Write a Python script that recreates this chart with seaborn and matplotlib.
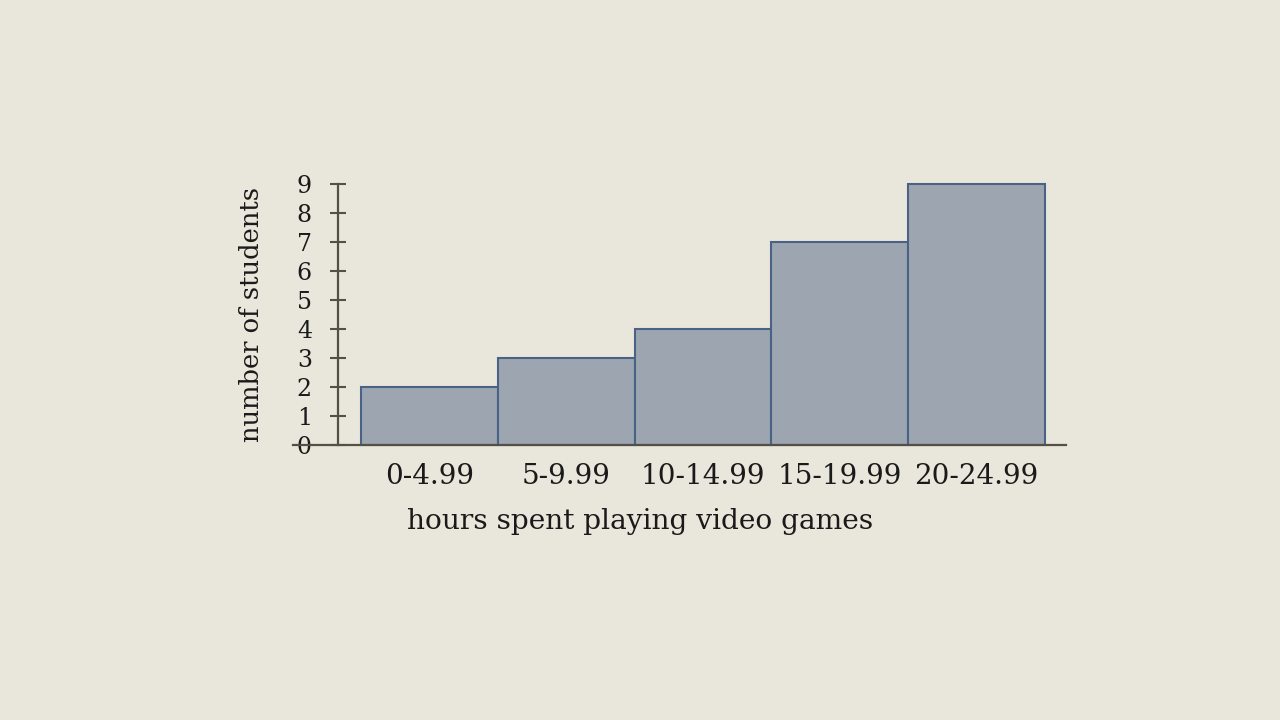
import matplotlib
matplotlib.use("Agg")
import matplotlib.pyplot as plt
import seaborn as sns
import pandas as pd

# data
hours = ["0-4.99", "5-9.99", "10-14.99", "15-19.99", "20-24.99"]
students = [2, 3, 4, 7, 9]
y_ticks = list(range(0, 10))

BG = "#E9E6DB"
BAR = "#9DA6B0"
EDGE = "#4A6285"
AXIS = "#555045"
TEXT = "#1A1A1A"

sns.set_theme(style="white")
plt.rcParams["font.family"] = ["DejaVu Serif"]

df = pd.DataFrame({"hours": hours, "students": students})

fig = plt.figure(figsize=(12.8, 7.2), dpi=100, facecolor=BG)
ax = fig.add_axes([293 / 1280, 1 - 445 / 720, 773 / 1280, 261 / 720])
ax.set_facecolor(BG)

sns.barplot(data=df, x="hours", y="students", order=hours, width=1,
            color=BAR, saturation=1, edgecolor=EDGE, linewidth=1.5, ax=ax)
for p in ax.patches:
    p.set_clip_on(False)

ax.set_xlim(-0.997, 4.654)
ax.set_ylim(0, 9)
ax.set_yticks(y_ticks)

# y axis sits just left of the first bar, x axis runs further left
for s in ["top", "right"]:
    ax.spines[s].set_visible(False)
ax.spines["left"].set_position(("data", -0.668))
ax.spines["left"].set_color(AXIS)
ax.spines["left"].set_linewidth(1.6)
ax.spines["bottom"].set_color(AXIS)
ax.spines["bottom"].set_linewidth(1.6)
ax.spines["left"].set_zorder(0)

ax.tick_params(axis="y", direction="inout", length=11.5, width=1.5, color=AXIS,
               labelsize=17, labelcolor=TEXT, pad=13, left=True)
ax.tick_params(axis="x", length=0, labelsize=20, labelcolor=TEXT, pad=13)

ax.set_xlabel("hours spent playing video games", fontsize=20.2, color=TEXT)
ax.xaxis.set_label_coords((640 - 293) / 773, -0.24)
ax.set_ylabel("number of students", fontsize=18.5, color=TEXT, labelpad=24)

fig.savefig("out.png", dpi=100, facecolor=BG)
